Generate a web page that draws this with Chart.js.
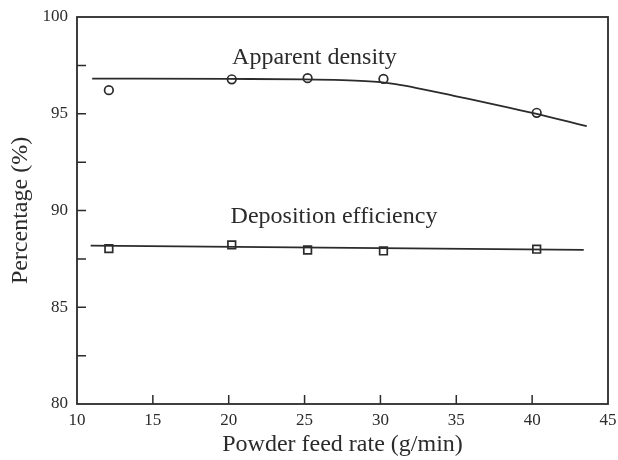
<!DOCTYPE html>
<html>
<head>
<meta charset="utf-8">
<script src="https://cdn.jsdelivr.net/npm/chart.js@4"></script>
<style>
  html, body { margin: 0; padding: 0; background: #ffffff; }
  canvas { display: block; }
</style>
</head>
<body>
<canvas id="c" width="618" height="460"></canvas>
<script>
// ---- data ----
const feedRate = [12.1, 20.2, 25.2, 30.2, 40.3];
const apparentDensity = [96.22, 96.78, 96.84, 96.8, 95.05];
const depositionEfficiency = [88.03, 88.22, 87.96, 87.91, 88.0];

const densityFitX = [11.0, 20, 25, 27.5, 29, 30, 31, 32.4, 35, 38, 40, 43.6];
const densityFitY = [96.82, 96.8, 96.78, 96.74, 96.69, 96.63, 96.53, 96.33, 95.9, 95.4, 95.05, 94.36];

const efficiencyFitX = [10.9, 43.4];
const efficiencyFitY = [88.18, 87.97];

const xTicks = [10, 15, 20, 25, 30, 35, 40, 45];
const yTicks = [80, 85, 90, 95, 100];

const annotationTexts = ['Apparent density', 'Deposition efficiency'];
const annotationX = [25.65, 26.94];
const annotationY = [97.92, 89.7];

const xTitle = 'Powder feed rate (g/min)';
const yTitle = 'Percentage (%)';

// ---- helpers ----
const ink = '#2b2b2b';
const serif = "'Liberation Serif', 'Times New Roman', serif";
const toPts = (xs, ys) => xs.map((x, i) => ({ x: x, y: ys[i] }));

const framePlugin = {
  id: 'frame',
  afterDatasetsDraw(chart) {
    const { ctx, chartArea: a, scales } = chart;
    ctx.save();
    ctx.strokeStyle = ink;
    ctx.lineWidth = 1.8;
    ctx.strokeRect(a.left, a.top, a.right - a.left, a.bottom - a.top);
    ctx.lineWidth = 1.5;
    const tl = 9;
    ctx.beginPath();
    scales.x.ticks.forEach(t => {
      if (t.value <= scales.x.min || t.value >= scales.x.max) return;
      const px = scales.x.getPixelForValue(t.value);
      ctx.moveTo(px, a.bottom);
      ctx.lineTo(px, a.bottom - tl);
    });
    scales.y.ticks.forEach(t => {
      if (t.value <= scales.y.min || t.value >= scales.y.max) return;
      const py = scales.y.getPixelForValue(t.value);
      ctx.moveTo(a.left, py);
      ctx.lineTo(a.left + tl, py);
    });
    ctx.stroke();
    ctx.restore();
  }
};

const textPlugin = {
  id: 'dataText',
  afterDatasetsDraw(chart, args, opts) {
    const { ctx, scales } = chart;
    ctx.save();
    ctx.fillStyle = ink;
    ctx.font = opts.font;
    ctx.textAlign = 'center';
    ctx.textBaseline = 'middle';
    opts.texts.forEach((t, i) => {
      ctx.fillText(t, scales.x.getPixelForValue(opts.xs[i]), scales.y.getPixelForValue(opts.ys[i]));
    });
    ctx.restore();
  }
};

new Chart(document.getElementById('c'), {
  type: 'scatter',
  data: {
    datasets: [
      {
        label: 'Apparent density fit',
        data: toPts(densityFitX, densityFitY),
        showLine: true,
        cubicInterpolationMode: 'monotone',
        borderColor: ink,
        borderWidth: 1.8,
        pointRadius: 0,
        order: 2
      },
      {
        label: 'Deposition efficiency fit',
        data: toPts(efficiencyFitX, efficiencyFitY),
        showLine: true,
        borderColor: ink,
        borderWidth: 1.8,
        pointRadius: 0,
        order: 2
      },
      {
        label: 'Apparent density',
        data: toPts(feedRate, apparentDensity),
        showLine: false,
        pointStyle: 'circle',
        pointRadius: 4.3,
        pointBorderWidth: 1.7,
        borderColor: ink,
        backgroundColor: 'rgba(0,0,0,0)',
        order: 1
      },
      {
        label: 'Deposition efficiency',
        data: toPts(feedRate, depositionEfficiency),
        showLine: false,
        pointStyle: 'rect',
        pointRadius: 5.4,
        pointBorderWidth: 1.7,
        borderColor: ink,
        backgroundColor: 'rgba(0,0,0,0)',
        order: 1
      }
    ]
  },
  options: {
    responsive: false,
    animation: false,
    devicePixelRatio: 1,
    layout: { padding: { top: 17, right: 10, left: 0, bottom: 0 } },
    plugins: {
      legend: { display: false },
      tooltip: { enabled: false },
      dataText: {
        texts: annotationTexts,
        xs: annotationX,
        ys: annotationY,
        font: '24px ' + serif
      }
    },
    scales: {
      x: {
        type: 'linear',
        min: xTicks[0],
        max: xTicks[xTicks.length - 1],
        afterBuildTicks: s => { s.ticks = xTicks.map(v => ({ value: v })); },
        afterFit: s => { s.height = 56; s.paddingLeft = 0; s.paddingRight = 0; },
        grid: { display: false, drawTicks: false },
        border: { display: false },
        ticks: {
          color: ink,
          padding: 6,
          autoSkip: false,
          maxRotation: 0,
          font: { family: serif, size: 17 },
          callback: v => String(v)
        },
        title: {
          display: true,
          text: xTitle,
          color: ink,
          font: { family: serif, size: 24 },
          padding: { top: 0, bottom: 1 }
        }
      },
      y: {
        type: 'linear',
        min: yTicks[0],
        max: yTicks[yTicks.length - 1],
        afterBuildTicks: s => {
          const t = [];
          for (let i = 0; i < yTicks.length; i++) {
            t.push({ value: yTicks[i] });
            if (i < yTicks.length - 1) t.push({ value: (yTicks[i] + yTicks[i + 1]) / 2 });
          }
          s.ticks = t;
        },
        afterFit: s => { s.width = 77; s.paddingTop = 0; s.paddingBottom = 0; },
        grid: { display: false, drawTicks: false },
        border: { display: false },
        ticks: {
          color: ink,
          padding: 9,
          autoSkip: false,
          font: { family: serif, size: 17 },
          callback: v => (yTicks.includes(v) ? String(v) : '')
        },
        title: {
          display: true,
          text: yTitle,
          color: ink,
          font: { family: serif, size: 24 },
          padding: { top: 6, bottom: 0 }
        }
      }
    }
  },
  plugins: [framePlugin, textPlugin]
});
</script>
</body>
</html>
